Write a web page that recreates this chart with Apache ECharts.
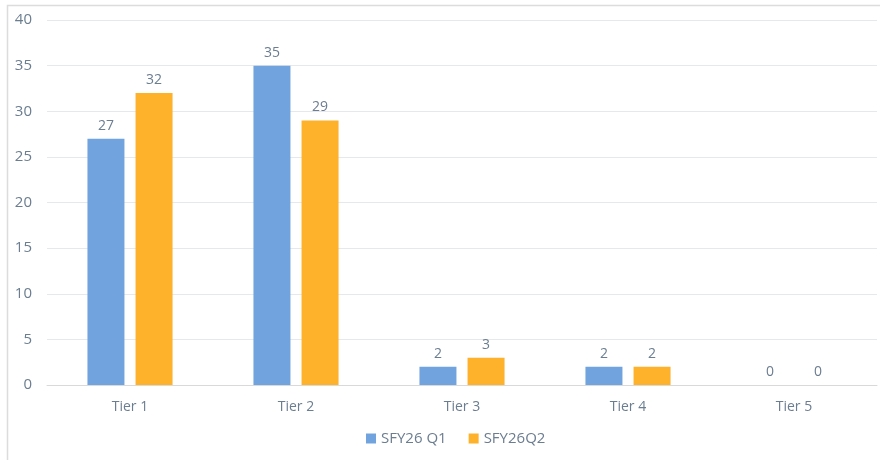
<!DOCTYPE html>
<html>
<head>
<meta charset="utf-8">
<script src="https://cdn.jsdelivr.net/npm/echarts@6/dist/echarts.min.js"></script>
<style>html,body{margin:0;padding:0;background:#fff}#c{width:880px;height:460px}</style>
</head>
<body>
<div id="c"></div>
<script>
const categories = ['Tier 1', 'Tier 2', 'Tier 3', 'Tier 4', 'Tier 5'];
const seriesNames = ['SFY26 Q1', 'SFY26Q2'];
const q1Values = [27, 35, 2, 2, 0];
const q2Values = [32, 29, 3, 2, 0];
const yTicks = { min: 0, max: 40, interval: 5 };

const chart = echarts.init(document.getElementById('c'), null, { renderer: 'canvas' });
const txt = '#6B7D90';
const font = '"Open Sans", "Noto Sans", sans-serif';
const labelCfg = { show: true, position: 'top', distance: 6, color: txt, fontSize: 14, fontFamily: font };
chart.setOption({
  animation: false,
  graphic: [{
    type: 'rect', left: 5, top: 3, shape: { width: 900, height: 480 },
    style: { fill: 'none', stroke: '#DCDCDC', lineWidth: 1.5 }, z: -1
  }],
  grid: { left: 47, right: 3, top: 20, bottom: 75 },
  legend: {
    bottom: 9, left: 361, itemWidth: 10, itemHeight: 10, itemGap: 22, icon: 'rect',
    textStyle: { color: txt, fontSize: 15, fontFamily: font }
  },
  xAxis: {
    type: 'category', data: categories,
    axisLine: { lineStyle: { color: '#D9D9D9', width: 1 } },
    axisTick: { show: false },
    axisLabel: { color: txt, fontSize: 14, fontFamily: font, margin: 15 }
  },
  yAxis: {
    type: 'value', min: yTicks.min, max: yTicks.max, interval: yTicks.interval,
    axisLine: { show: false }, axisTick: { show: false },
    axisLabel: { color: txt, fontSize: 15, fontFamily: font, margin: 15 },
    splitLine: { lineStyle: { color: '#E6E9EC', width: 1 } }
  },
  series: [
    { name: seriesNames[0], type: 'bar', data: q1Values, barWidth: 37, barGap: '30%',
      itemStyle: { color: '#71A4DE' }, label: labelCfg },
    { name: seriesNames[1], type: 'bar', data: q2Values, barWidth: 37,
      itemStyle: { color: '#FEB12A' }, label: labelCfg }
  ]
});
</script>
</body>
</html>
